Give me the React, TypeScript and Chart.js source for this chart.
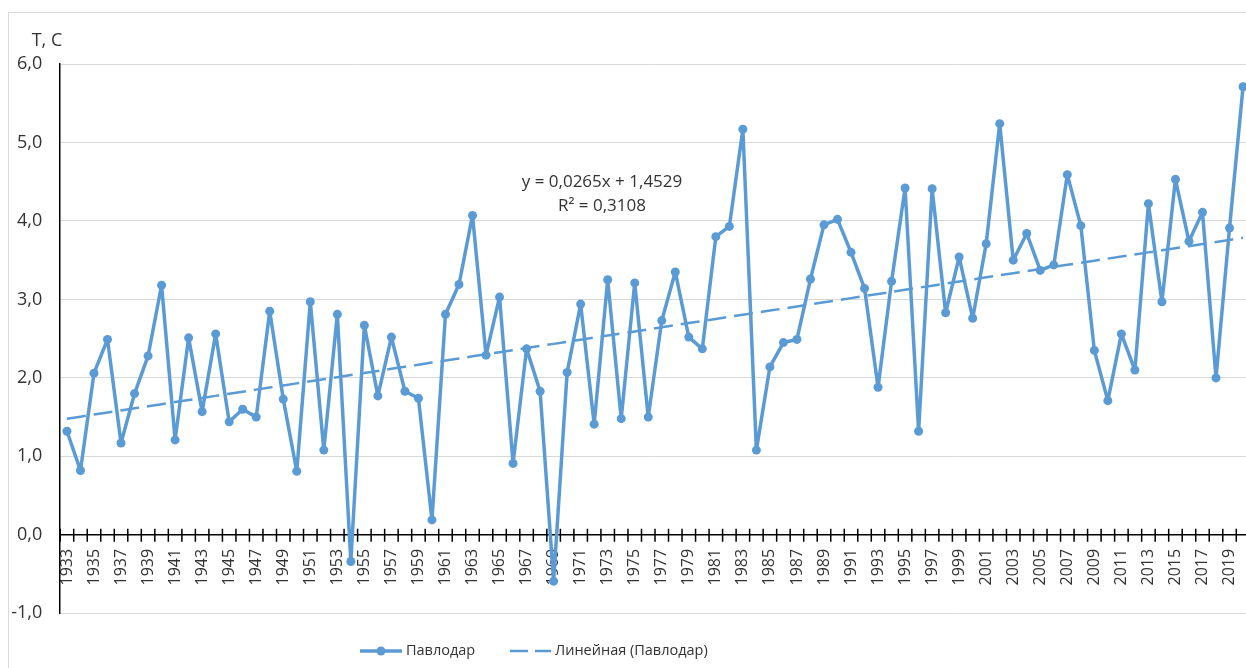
import React, { useEffect, useRef } from 'react';
import { Chart, registerables } from 'chart.js';

Chart.register(...registerables);

const years = [
  '1933', '1934', '1935', '1936', '1937', '1938', '1939', '1940', '1941', '1942',
  '1943', '1944', '1945', '1946', '1947', '1948', '1949', '1950', '1951', '1952',
  '1953', '1954', '1955', '1956', '1957', '1958', '1959', '1960', '1961', '1962',
  '1963', '1964', '1965', '1966', '1967', '1968', '1969', '1970', '1971', '1972',
  '1973', '1974', '1975', '1976', '1977', '1978', '1979', '1980', '1981', '1982',
  '1983', '1984', '1985', '1986', '1987', '1988', '1989', '1990', '1991', '1992',
  '1993', '1994', '1995', '1996', '1997', '1998', '1999', '2000', '2001', '2002',
  '2003', '2004', '2005', '2006', '2007', '2008', '2009', '2010', '2011', '2012',
  '2013', '2014', '2015', '2016', '2017', '2018', '2019', '2020',
];

const pavlodarTemps = [
  1.32, 0.82, 2.06, 2.49, 1.17, 1.80, 2.28, 3.18, 1.21, 2.51,
  1.57, 2.56, 1.44, 1.60, 1.50, 2.85, 1.73, 0.81, 2.97, 1.08,
  2.81, -0.34, 2.67, 1.77, 2.52, 1.83, 1.74, 0.19, 2.81, 3.19,
  4.07, 2.29, 3.03, 0.91, 2.37, 1.83, -0.59, 2.07, 2.94, 1.41,
  3.25, 1.48, 3.21, 1.50, 2.73, 3.35, 2.52, 2.37, 3.80, 3.93,
  5.17, 1.08, 2.14, 2.45, 2.49, 3.26, 3.95, 4.02, 3.60, 3.14,
  1.88, 3.23, 4.42, 1.32, 4.41, 2.83, 3.54, 2.76, 3.71, 5.24,
  3.50, 3.84, 3.37, 3.44, 4.59, 3.94, 2.35, 1.71, 2.56, 2.10,
  4.22, 2.97, 4.53, 3.74, 4.11, 2.00, 3.91, 5.71,
];

// Linear trendline coefficients as printed on the chart (x = 1..N)
const trendSlope = 0.0265;
const trendIntercept = 1.4529;

const seriesName = 'Павлодар';
const trendName = 'Линейная (Павлодар)';
const equationLines = ['y = 0,0265x + 1,4529', 'R² = 0,3108'];
const axisTitle = 'T, C';
const yMin = -1;
const yMax = 6;
const yStep = 1;

const BLUE = '#5b9bd5';
const TEXT = '#333333';
const FONT = "'Open Sans', sans-serif";

const CANVAS_W = 1250;
const CANVAS_H = 660;
const AREA_LEFT = 51.2;
const AREA_RIGHT = 1240.8;

const trendValues = pavlodarTemps.map((_, i) => trendSlope * (i + 1) + trendIntercept);

const decorPlugin = {
  id: 'decor',
  afterLayout(chart: any) {
    const ca = chart.chartArea;
    ca.left = AREA_LEFT;
    ca.right = AREA_RIGHT;
    ca.width = ca.right - ca.left;
    const xs = chart.scales.x;
    xs.left = ca.left;
    xs.right = ca.right;
    xs.width = ca.width;
    xs.paddingLeft = 0;
    xs.paddingRight = 0;
    xs.configure();
  },
  beforeDatasetsDraw(chart: any) {
    const { ctx, scales } = chart;
    const xs = scales.x;
    const ys = scales.y;
    const y0 = ys.getPixelForValue(0);
    const sp = xs.getPixelForValue(1) - xs.getPixelForValue(0);
    ctx.save();
    ctx.strokeStyle = '#000';
    ctx.lineWidth = 1.5;
    ctx.beginPath();
    for (let i = 0; i <= years.length; i++) {
      const px = xs.getPixelForValue(0) - sp / 2 + i * sp;
      ctx.moveTo(px, y0 - 6);
      ctx.lineTo(px, y0 + 7);
    }
    ctx.stroke();
    ctx.restore();
  },
  afterDraw(chart: any) {
    const { ctx } = chart;
    ctx.save();
    ctx.fillStyle = TEXT;
    ctx.textBaseline = 'middle';
    // axis title
    ctx.font = `18px ${FONT}`;
    ctx.textAlign = 'center';
    ctx.fillText(axisTitle, 38, 28);
    // trendline equation
    ctx.font = `17px ${FONT}`;
    ctx.fillText(equationLines[0], 593, 169);
    ctx.fillText(equationLines[1], 593, 193);
    // legend
    const ly = 638;
    ctx.strokeStyle = BLUE;
    ctx.lineWidth = 3.5;
    ctx.beginPath();
    ctx.moveTo(351, ly);
    ctx.lineTo(393, ly);
    ctx.stroke();
    ctx.fillStyle = BLUE;
    ctx.beginPath();
    ctx.arc(372, ly, 4.5, 0, Math.PI * 2);
    ctx.fill();
    ctx.lineWidth = 2.5;
    ctx.beginPath();
    ctx.moveTo(501, ly);
    ctx.lineTo(519, ly);
    ctx.moveTo(526, ly);
    ctx.lineTo(542, ly);
    ctx.stroke();
    ctx.fillStyle = TEXT;
    ctx.textAlign = 'left';
    ctx.font = `14.5px ${FONT}`;
    ctx.fillText(seriesName, 397, ly);
    ctx.fillText(trendName, 546, ly);
    ctx.restore();
  },
};

export default function App() {
  const canvasRef = useRef<HTMLCanvasElement | null>(null);

  useEffect(() => {
    if (!canvasRef.current) return;
    Chart.defaults.font.family = FONT;
    const chart = new Chart(canvasRef.current, {
      type: 'line',
      data: {
        labels: years,
        datasets: [
          {
            label: trendName,
            data: trendValues,
            borderColor: BLUE,
            borderWidth: 2.5,
            borderDash: [19, 8],
            pointRadius: 0,
            fill: false,
            order: 0,
          },
          {
            label: seriesName,
            data: pavlodarTemps,
            borderColor: BLUE,
            backgroundColor: BLUE,
            borderWidth: 3.5,
            borderJoinStyle: 'round',
            borderCapStyle: 'round',
            pointRadius: 4.5,
            pointBorderWidth: 0,
            pointBackgroundColor: BLUE,
            fill: false,
            tension: 0,
            order: 1,
          },
        ],
      },
      options: {
        animation: false,
        responsive: false,
        layout: { padding: { left: 0, top: 51, right: 9.2, bottom: 59.7 } },
        plugins: {
          legend: { display: false },
          tooltip: { enabled: false },
        },
        scales: {
          x: {
            type: 'category',
            position: { y: 0 } as any,
            offset: true,
            grid: { display: false, drawTicks: false },
            border: { display: true, color: '#000', width: 1.5 },
            ticks: {
              autoSkip: false,
              minRotation: 90,
              maxRotation: 90,
              padding: 14,
              color: TEXT,
              font: { size: 16, family: FONT },
              callback: (_v: any, i: number) => (i % 2 === 0 ? years[i] : ''),
            },
            afterFit: (scale: any) => {
              scale.paddingLeft = 0;
              scale.paddingRight = 0;
            },
          },
          y: {
            min: yMin,
            max: yMax,
            position: 'left',
            grid: { color: '#d9d9d9', lineWidth: 1, drawTicks: false },
            border: { display: true, color: '#000', width: 1.5 },
            ticks: {
              stepSize: yStep,
              padding: 18,
              color: TEXT,
              font: { size: 18, family: FONT },
              callback: (v: any) => Number(v).toFixed(1).replace('.', ','),
            },
            afterFit: (scale: any) => {
              scale.width = AREA_LEFT;
            },
          },
        },
      },
      plugins: [decorPlugin],
    });
    return () => chart.destroy();
  }, []);

  return (
    <div
      style={{
        position: 'fixed',
        left: 0,
        top: 0,
        width: 1246,
        height: 668,
        overflow: 'hidden',
        background: '#fff',
      }}
    >
      <div
        style={{
          position: 'absolute',
          left: 8,
          top: 12,
          width: CANVAS_W,
          height: CANVAS_H,
          border: '1px solid #d9d9d9',
        }}
      >
        <canvas
          ref={canvasRef}
          width={CANVAS_W}
          height={CANVAS_H}
          style={{ display: 'block', width: CANVAS_W, height: CANVAS_H }}
        />
      </div>
    </div>
  );
}
